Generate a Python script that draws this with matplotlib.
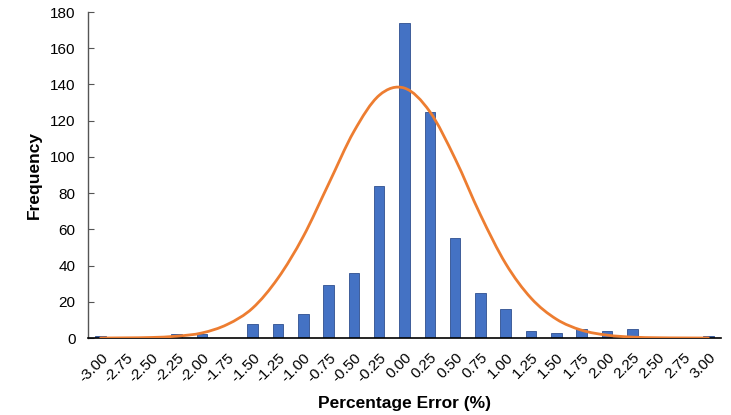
import numpy as np
import matplotlib.pyplot as plt
from matplotlib.path import Path
from matplotlib.patches import PathPatch

plt.rcParams['font.family'] = ['Liberation Sans', 'DejaVu Sans']

# histogram bins (percentage error) and counts
bins = ['-3.00', '-2.75', '-2.50', '-2.25', '-2.00', '-1.75', '-1.50', '-1.25',
        '-1.00', '-0.75', '-0.50', '-0.25', '0.00', '0.25', '0.50', '0.75',
        '1.00', '1.25', '1.50', '1.75', '2.00', '2.25', '2.50', '2.75', '3.00']
counts = [1, 0, 0, 2, 2, 0, 8, 8, 13, 29, 36, 84, 174, 125, 55, 25,
          16, 4, 3, 5, 4, 5, 0, 0, 1]
# fitted normal curve at each bin
curve = [0.0, 0.1, 0.3, 1.0, 2.8, 7.5, 16.5, 33, 56, 85, 114, 134, 138,
         125, 99, 68, 41, 22, 10.4, 4.3, 1.6, 0.5, 0.15, 0.05, 0.0]

xpos = np.arange(len(bins))

fig = plt.figure(figsize=(7.31, 4.15), dpi=100)
ax = fig.add_axes([0.1204, 0.1855, 0.8659, 0.7855])

ax.bar(xpos, counts, width=0.42, color='#4472C4', edgecolor='#2F4F8F',
       linewidth=0.6, zorder=2)

# smoothed line like a spreadsheet "smoothed" series (Catmull-Rom -> Bezier)
pts = np.column_stack([xpos, curve]).astype(float)
verts = [pts[0]]
codes = [Path.MOVETO]
for i in range(len(pts) - 1):
    p0 = pts[i - 1] if i > 0 else pts[i]
    p1 = pts[i]
    p2 = pts[i + 1]
    p3 = pts[i + 2] if i + 2 < len(pts) else pts[i + 1]
    c1 = p1 + (p2 - p0) / 6.0
    c2 = p2 - (p3 - p1) / 6.0
    verts += [c1, c2, p2]
    codes += [Path.CURVE4] * 3
ax.add_patch(PathPatch(Path(verts, codes), facecolor='none',
                       edgecolor='#ED7D31', linewidth=2.0, zorder=3,
                       capstyle='round'))

ax.set_xlim(-0.5, len(bins) - 0.5)
ax.set_ylim(0, 180)
ax.set_yticks(range(0, 181, 20))
ax.set_xticks(xpos)
ax.set_xticklabels(bins, rotation=45, ha='right', va='top',
                   rotation_mode='anchor', fontsize=11)
ax.tick_params(axis='x', length=0, pad=9)
ax.tick_params(axis='y', direction='in', length=4, width=0.8,
               color='#555555', labelsize=11, pad=9)

for s in ['top', 'right']:
    ax.spines[s].set_visible(False)
ax.spines['left'].set_color('#555555')
ax.spines['left'].set_linewidth(1.0)
ax.spines['bottom'].set_color('black')
ax.spines['bottom'].set_linewidth(1.2)

ax.set_ylabel('Frequency', fontsize=12.5, fontweight='bold', labelpad=6)
ax.set_xlabel('Percentage Error (%)', fontsize=12.5, fontweight='bold',
              labelpad=8)

plt.savefig('out.png', dpi=100)
